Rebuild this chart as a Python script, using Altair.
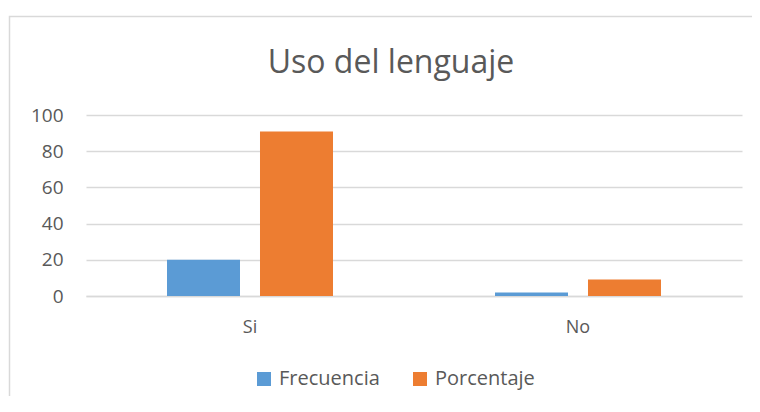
import altair as alt
import pandas as pd

categories = ["Si", "No"]
series = ["Frecuencia", "Porcentaje"]
frecuencia = [20, 2]
porcentaje = [90.91, 9.09]
colors = ["#5b9bd5", "#ed7d31"]

rows = []
for i, c in enumerate(categories):
    rows.append({"cat": c, "serie": series[0], "valor": frecuencia[i]})
    rows.append({"cat": c, "serie": series[1], "valor": porcentaje[i]})
df = pd.DataFrame(rows)

FONT = "Open Sans"
TXT = "#595959"

bars = alt.Chart(df).mark_bar().encode(
    x=alt.X("cat:N", sort=categories, title=None,
            scale=alt.Scale(paddingInner=0, paddingOuter=0),
            axis=alt.Axis(labelAngle=0, labelFontSize=18, labelColor=TXT, labelFont=FONT,
                          labelPadding=22, ticks=False, domainColor="#d9d9d9", domainWidth=1.5,
                          grid=False)),
    xOffset=alt.XOffset("serie:N", sort=series,
                        scale=alt.Scale(paddingInner=0.215, paddingOuter=0.871)),
    y=alt.Y("valor:Q", title=None,
            scale=alt.Scale(domain=[0, 100]),
            axis=alt.Axis(values=[0, 20, 40, 60, 80, 100], labelFontSize=19, labelColor=TXT,
                          labelFont=FONT, labelPadding=23, ticks=False, domain=False,
                          gridColor="#d9d9d9", gridWidth=1.5)),
    color=alt.Color("serie:N", sort=series,
                    scale=alt.Scale(domain=series, range=colors),
                    legend=alt.Legend(title=None, orient="none", direction="horizontal",
                                      legendX=168, legendY=254, symbolType="square",
                                      symbolSize=196, symbolStrokeWidth=0,
                                      labelFontSize=20, labelFont=FONT, labelColor=TXT,
                                      columnPadding=30, labelOffset=5)),
)

frame = alt.Chart(pd.DataFrame({"a": [0]})).mark_rect(
    fill="transparent", stroke="#d9d9d9", strokeWidth=1.5, clip=False
).encode(x=alt.value(-76.5), x2=alt.value(720), y=alt.value(-98.5), y2=alt.value(320))

chart = alt.layer(frame, bars).properties(
    width=656, height=181,
    autosize=alt.AutoSizeParams(type="none"),
    padding={"left": 78, "top": 107, "right": 10, "bottom": 100},
    title=alt.TitleParams("Uso del lenguaje", fontSize=32, font=FONT, color=TXT,
                          fontWeight="normal", anchor="middle", dx=-23, offset=-96,
                          baseline="bottom"),
).configure_view(stroke=None)

chart.save("out.html", embed_options={"renderer": "svg", "actions": False})
